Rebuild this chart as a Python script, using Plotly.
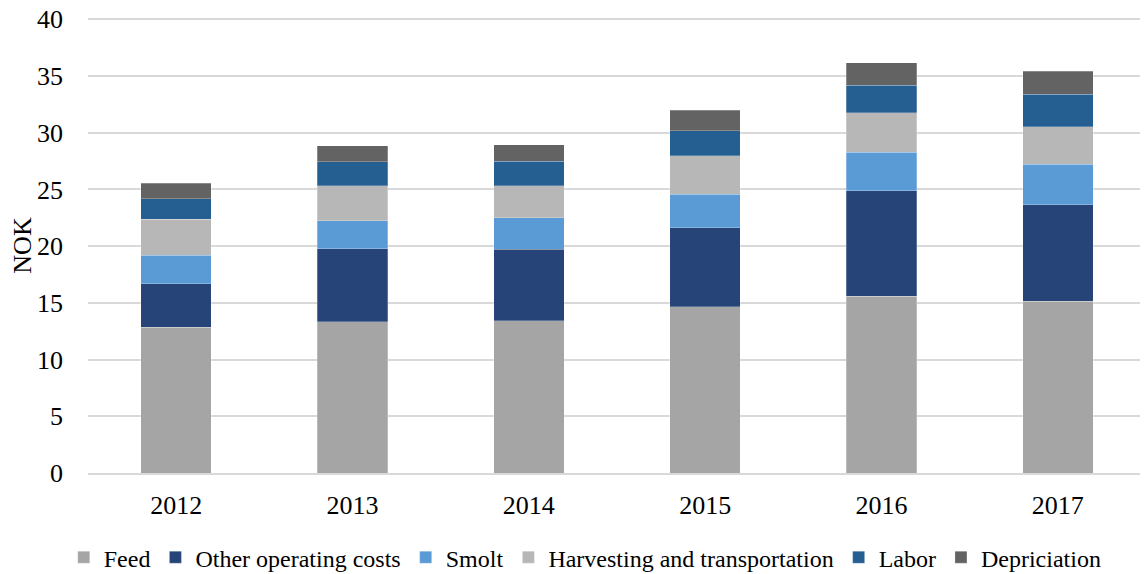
import plotly.graph_objects as go

years = ["2012", "2013", "2014", "2015", "2016", "2017"]
feed = [12.87, 13.33, 13.42, 14.65, 15.59, 15.15]
other_operating = [3.82, 6.43, 6.29, 6.96, 9.30, 8.51]
smolt = [2.52, 2.49, 2.81, 2.98, 3.38, 3.56]
harvesting = [3.18, 3.07, 2.80, 3.37, 3.51, 3.31]
labor = [1.79, 2.11, 2.19, 2.24, 2.40, 2.86]
depreciation = [1.37, 1.43, 1.44, 1.79, 1.99, 2.02]

series = [
    ("Feed", feed, "#A5A5A5"),
    ("Other operating costs", other_operating, "#264478"),
    ("Smolt", smolt, "#5B9BD5"),
    ("Harvesting and transportation", harvesting, "#B7B7B7"),
    ("Labor", labor, "#255E91"),
    ("Depriciation", depreciation, "#636363"),
]

fig = go.Figure()
for name, vals, color in series:
    fig.add_trace(go.Bar(
        x=years, y=vals, name=name,
        marker=dict(color=color, line=dict(color="rgba(255,255,255,0.5)", width=0.5)),
    ))

font = "Liberation Serif, Times New Roman, serif"
fs = 26
fig.update_layout(
    barmode="stack",
    bargap=0.6,
    width=1140, height=566,
    margin=dict(l=80, r=2, t=10, b=101, autoexpand=False),
    paper_bgcolor="white", plot_bgcolor="white",
    font=dict(family=font, size=fs, color="#000000"),
    showlegend=True,
    legend=dict(orientation="h", x=0.47, xanchor="center", y=-0.186, yanchor="middle",
                font=dict(family=font, size=24, color="#000000"),
                itemwidth=30, traceorder="normal", tracegroupgap=0),
    xaxis=dict(showgrid=False, showline=True, linecolor="#D9D9D9", linewidth=1.5,
               ticks="", tickfont=dict(family=font, size=fs), ticklabelstandoff=8),
    yaxis=dict(range=[0, 40.12], tickvals=[0, 5, 10, 15, 20, 25, 30, 35, 40],
               showgrid=True, gridcolor="#D9D9D9", gridwidth=1.5,
               zeroline=False, showline=False, ticks="", ticklabelstandoff=24,
               ticklabeloverflow="allow",
               title=dict(text="NOK", font=dict(family=font, size=fs), standoff=8),
               tickfont=dict(family=font, size=fs)),
)

fig.write_html("out.html")
